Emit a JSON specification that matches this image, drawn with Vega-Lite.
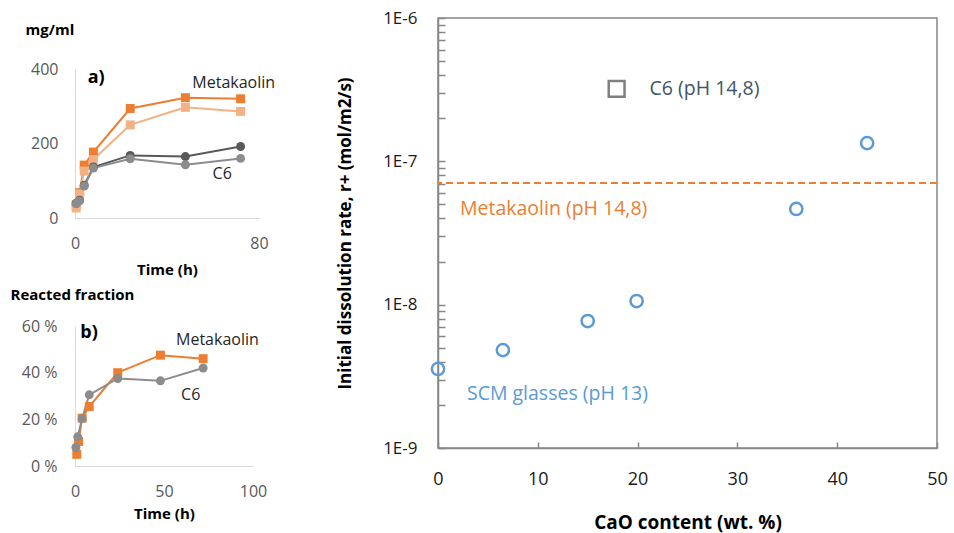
{
  "$schema": "https://vega.github.io/schema/vega-lite/v6.json",
  "padding": {"left": 10, "top": 8, "right": 5, "bottom": 3},
  "autosize": {"type": "pad"},
  "background": "white",
  "config": {
    "view": {"stroke": null},
    "font": "Open Sans",
    "axis": {"grid": false, "labelFlush": false, "labelFont": "Open Sans", "titleFont": "Open Sans"},
    "text": {"font": "Open Sans"}
  },
  "datasets": {
    "conc": [
      {"t": 0.5, "v": 35, "series": "Metakaolin 1", "material": "Metakaolin"},
      {"t": 2, "v": 68, "series": "Metakaolin 1", "material": "Metakaolin"},
      {"t": 4, "v": 142, "series": "Metakaolin 1", "material": "Metakaolin"},
      {"t": 8, "v": 177, "series": "Metakaolin 1", "material": "Metakaolin"},
      {"t": 24, "v": 294, "series": "Metakaolin 1", "material": "Metakaolin"},
      {"t": 48, "v": 323, "series": "Metakaolin 1", "material": "Metakaolin"},
      {"t": 72, "v": 320, "series": "Metakaolin 1", "material": "Metakaolin"},
      {"t": 0.5, "v": 27, "series": "Metakaolin 2", "material": "Metakaolin"},
      {"t": 2, "v": 65, "series": "Metakaolin 2", "material": "Metakaolin"},
      {"t": 4, "v": 126, "series": "Metakaolin 2", "material": "Metakaolin"},
      {"t": 8, "v": 157, "series": "Metakaolin 2", "material": "Metakaolin"},
      {"t": 24, "v": 250, "series": "Metakaolin 2", "material": "Metakaolin"},
      {"t": 48, "v": 297, "series": "Metakaolin 2", "material": "Metakaolin"},
      {"t": 72, "v": 286, "series": "Metakaolin 2", "material": "Metakaolin"},
      {"t": 0.5, "v": 40, "series": "C6 1", "material": "C6"},
      {"t": 2, "v": 48, "series": "C6 1", "material": "C6"},
      {"t": 4, "v": 88, "series": "C6 1", "material": "C6"},
      {"t": 8, "v": 137, "series": "C6 1", "material": "C6"},
      {"t": 24, "v": 168, "series": "C6 1", "material": "C6"},
      {"t": 48, "v": 165, "series": "C6 1", "material": "C6"},
      {"t": 72, "v": 192, "series": "C6 1", "material": "C6"},
      {"t": 0.5, "v": 38, "series": "C6 2", "material": "C6"},
      {"t": 2, "v": 46, "series": "C6 2", "material": "C6"},
      {"t": 4, "v": 86, "series": "C6 2", "material": "C6"},
      {"t": 8, "v": 134, "series": "C6 2", "material": "C6"},
      {"t": 24, "v": 159, "series": "C6 2", "material": "C6"},
      {"t": 48, "v": 143, "series": "C6 2", "material": "C6"},
      {"t": 72, "v": 160, "series": "C6 2", "material": "C6"}
    ],
    "frac": [
      {"t": 1, "v": 5, "series": "Metakaolin", "material": "Metakaolin"},
      {"t": 2, "v": 10.5, "series": "Metakaolin", "material": "Metakaolin"},
      {"t": 4, "v": 20.5, "series": "Metakaolin", "material": "Metakaolin"},
      {"t": 8, "v": 25.5, "series": "Metakaolin", "material": "Metakaolin"},
      {"t": 24, "v": 40, "series": "Metakaolin", "material": "Metakaolin"},
      {"t": 48, "v": 47.5, "series": "Metakaolin", "material": "Metakaolin"},
      {"t": 72, "v": 46, "series": "Metakaolin", "material": "Metakaolin"},
      {"t": 0.5, "v": 8, "series": "C6", "material": "C6"},
      {"t": 1.5, "v": 12.5, "series": "C6", "material": "C6"},
      {"t": 4, "v": 20.3, "series": "C6", "material": "C6"},
      {"t": 8, "v": 30.5, "series": "C6", "material": "C6"},
      {"t": 24, "v": 37.5, "series": "C6", "material": "C6"},
      {"t": 48, "v": 36.5, "series": "C6", "material": "C6"},
      {"t": 72, "v": 42, "series": "C6", "material": "C6"}
    ],
    "aLabels": [
      {"t": 69, "v": 362, "label": "Metakaolin"},
      {"t": 64, "v": 118, "label": "C6"}
    ],
    "aTag": [{"t": 5.5, "v": 376, "label": "a)"}],
    "bLabels": [
      {"t": 80, "v": 54, "label": "Metakaolin"},
      {"t": 65, "v": 30.4, "label": "C6"}
    ],
    "bTag": [{"t": 3, "v": 57, "label": "b)"}],
    "glasses": [
      {"cao": 0, "rate": 3.56e-9},
      {"cao": 6.5, "rate": 4.82e-9},
      {"cao": 15, "rate": 7.69e-9},
      {"cao": 19.9, "rate": 1.06e-8},
      {"cao": 35.9, "rate": 4.65e-8},
      {"cao": 43, "rate": 1.34e-7}
    ],
    "c6": [{"cao": 17.9, "rate": 3.2e-7}],
    "mk": [{"rate": 7.06e-8}],
    "c6Label": [{"cao": 21.2, "rate": 3.2e-7, "label": "C6 (pH 14,8)"}],
    "mkLabel": [{"cao": 2.2, "rate": 4.65e-8, "label": "Metakaolin (pH 14,8)"}],
    "scmLabel": [{"cao": 2.9, "rate": 2.38e-9, "label": "SCM glasses (pH 13)"}]
  },
  "spacing": 59,
  "hconcat": [
    {
      "spacing": 0,
      "vconcat": [
        {
          "width": 184,
          "height": 4,
          "data": {"values": [{"k": 1}]},
          "mark": {"type": "point", "size": 0, "opacity": 0}
        },
        {
          "spacing": 10,
          "vconcat": [
            {
              "width": 184,
              "height": 149,
              "layer": [
                {
                  "data": {"name": "conc"},
                  "mark": {"type": "line", "strokeWidth": 2},
                  "encoding": {
                    "x": {"field": "t", "type": "quantitative", "scale": {"domain": [0, 80], "nice": false},
                      "axis": {"values": [0, 80], "ticks": false, "domainColor": "#D9D9D9", "labelColor": "#595959", "labelFontSize": 16, "labelBaseline": "middle", "labelPadding": 25, "title": "Time (h)", "titleFontSize": 15, "titleFontWeight": "bold", "titleColor": "#000000", "titleBaseline": "middle", "titleY": 51}},
                    "y": {"field": "v", "type": "quantitative", "scale": {"domain": [0, 400], "nice": false},
                      "axis": {"values": [0, 100, 200, 300, 400], "ticks": false, "domainColor": "#D9D9D9", "labelColor": "#595959", "labelFontSize": 16, "labelPadding": 17, "title": "mg/ml", "titleAngle": 0, "titleAlign": "left", "titleBaseline": "middle", "titleX": -50, "titleY": -40, "titleFontSize": 15, "titleFontWeight": "bold", "titleColor": "#000000"}},
                    "color": {"field": "series", "type": "nominal", "legend": null,
                      "scale": {"domain": ["Metakaolin 1", "Metakaolin 2", "C6 1", "C6 2", "Metakaolin", "C6"], "range": ["#ED7D31", "#F4B183", "#595959", "#8C8C8C", "#ED7D31", "#8C8C8C"]}},
                    "detail": {"field": "series"}
                  }
                },
                {
                  "data": {"name": "conc"},
                  "mark": {"type": "point", "filled": true, "opacity": 1, "size": 80},
                  "encoding": {
                    "x": {"field": "t", "type": "quantitative"},
                    "y": {"field": "v", "type": "quantitative"},
                    "color": {"field": "series", "type": "nominal", "legend": null},
                    "shape": {"field": "material", "type": "nominal", "legend": null, "scale": {"domain": ["Metakaolin", "C6"], "range": ["square", "circle"]}}
                  }
                },
                {
                  "data": {"name": "aLabels"},
                  "mark": {"type": "text", "fontSize": 16, "color": "#262626", "align": "center", "baseline": "middle"},
                  "encoding": {
                    "x": {"field": "t", "type": "quantitative"},
                    "y": {"field": "v", "type": "quantitative"},
                    "text": {"field": "label"}
                  }
                },
                {
                  "data": {"name": "aTag"},
                  "mark": {"type": "text", "fontSize": 18, "fontWeight": "bold", "color": "#000000", "align": "left", "baseline": "middle"},
                  "encoding": {
                    "x": {"field": "t", "type": "quantitative"},
                    "y": {"field": "v", "type": "quantitative"},
                    "text": {"field": "label"}
                  }
                }
              ]
            },
            {
              "width": 178,
              "height": 140,
              "layer": [
                {
                  "data": {"name": "frac"},
                  "mark": {"type": "line", "strokeWidth": 2},
                  "encoding": {
                    "x": {"field": "t", "type": "quantitative", "scale": {"domain": [0, 100], "nice": false},
                      "axis": {"values": [0, 50, 100], "ticks": false, "domainColor": "#D9D9D9", "labelColor": "#595959", "labelFontSize": 16, "labelBaseline": "middle", "labelPadding": 25, "title": "Time (h)", "titleFontSize": 15, "titleFontWeight": "bold", "titleColor": "#000000", "titleBaseline": "middle", "titleY": 47}},
                    "y": {"field": "v", "type": "quantitative", "scale": {"domain": [0, 60], "nice": false},
                      "axis": {"values": [0, 20, 40, 60], "ticks": false, "domainColor": "#D9D9D9", "labelColor": "#595959", "labelFontSize": 16, "labelPadding": 18, "labelExpr": "datum.value + ' %'", "title": "Reacted fraction", "titleAngle": 0, "titleAlign": "left", "titleBaseline": "middle", "titleX": -65, "titleY": -32, "titleFontSize": 15, "titleFontWeight": "bold", "titleColor": "#000000"}},
                    "color": {"field": "series", "type": "nominal", "legend": null,
                      "scale": {"domain": ["Metakaolin 1", "Metakaolin 2", "C6 1", "C6 2", "Metakaolin", "C6"], "range": ["#ED7D31", "#F4B183", "#595959", "#8C8C8C", "#ED7D31", "#8C8C8C"]}},
                    "detail": {"field": "series"}
                  }
                },
                {
                  "data": {"name": "frac"},
                  "mark": {"type": "point", "filled": true, "opacity": 1, "size": 80},
                  "encoding": {
                    "x": {"field": "t", "type": "quantitative"},
                    "y": {"field": "v", "type": "quantitative"},
                    "color": {"field": "series", "type": "nominal", "legend": null},
                    "shape": {"field": "material", "type": "nominal", "legend": null, "scale": {"domain": ["Metakaolin", "C6"], "range": ["square", "circle"]}}
                  }
                },
                {
                  "data": {"name": "bLabels"},
                  "mark": {"type": "text", "fontSize": 16, "color": "#262626", "align": "center", "baseline": "middle"},
                  "encoding": {
                    "x": {"field": "t", "type": "quantitative"},
                    "y": {"field": "v", "type": "quantitative"},
                    "text": {"field": "label"}
                  }
                },
                {
                  "data": {"name": "bTag"},
                  "mark": {"type": "text", "fontSize": 18, "fontWeight": "bold", "color": "#000000", "align": "left", "baseline": "middle"},
                  "encoding": {
                    "x": {"field": "t", "type": "quantitative"},
                    "y": {"field": "v", "type": "quantitative"},
                    "text": {"field": "label"}
                  }
                }
              ]
            }
          ]
        }
      ]
    },
    {
      "width": 499,
      "height": 430,
      "view": {"stroke": "#878787", "strokeWidth": 1.5},
      "layer": [
        {
          "data": {"name": "mk"},
          "mark": {"type": "rule", "color": "#ED7D31", "strokeWidth": 2, "strokeDash": [7, 4]},
          "encoding": {
            "y": {"field": "rate", "type": "quantitative",
              "scale": {"type": "log", "domain": [1e-9, 1e-6], "nice": false},
              "axis": {
                "values": [1e-9, 2e-9, 3e-9, 4e-9, 5e-9, 6e-9, 7e-9, 8e-9, 9e-9, 1e-8, 2e-8, 3e-8, 4e-8, 5e-8, 6e-8, 7e-8, 8e-8, 9e-8, 1e-7, 2e-7, 3e-7, 4e-7, 5e-7, 6e-7, 7e-7, 8e-7, 9e-7, 1e-6],
                "labelExpr": "abs(log(datum.value)/LN10 - round(log(datum.value)/LN10)) < 0.01 ? '1E' + round(log(datum.value)/LN10) : ''",
                "tickSize": -7, "tickColor": "#878787", "tickWidth": 1.5,
                "domainColor": "#878787", "domainWidth": 1.5,
                "labelColor": "#1a1a1a", "labelFontSize": 17, "labelPadding": 28,
                "title": "Initial dissolution rate, r+ (mol/m2/s)", "titleFontSize": 17, "titleFontWeight": "bold", "titleColor": "#000000",
                "titleBaseline": "middle", "titleX": -93, "titleY": 215
              }
            }
          }
        },
        {
          "data": {"name": "glasses"},
          "mark": {"type": "point", "shape": "circle", "filled": false, "color": "#5B9BD5", "strokeWidth": 2.5, "size": 150, "opacity": 1},
          "encoding": {
            "x": {"field": "cao", "type": "quantitative", "scale": {"domain": [0, 50], "nice": false},
              "axis": {"values": [0, 10, 20, 30, 40, 50], "tickSize": -6, "tickColor": "#878787", "tickWidth": 1.5,
                "domainColor": "#878787", "domainWidth": 1.5,
                "labelColor": "#1a1a1a", "labelFontSize": 18, "labelBaseline": "middle", "labelPadding": 37,
                "title": "CaO content (wt. %)", "titleFontSize": 19, "titleFontWeight": "bold", "titleColor": "#000000",
                "titleBaseline": "middle", "titleY": 74}},
            "y": {"field": "rate", "type": "quantitative"}
          }
        },
        {
          "data": {"name": "c6"},
          "mark": {"type": "point", "shape": "square", "filled": false, "color": "#7F7F7F", "strokeWidth": 2.5, "size": 250, "opacity": 1},
          "encoding": {
            "x": {"field": "cao", "type": "quantitative"},
            "y": {"field": "rate", "type": "quantitative"}
          }
        },
        {
          "data": {"name": "c6Label"},
          "mark": {"type": "text", "fontSize": 19.5, "color": "#44546A", "align": "left", "baseline": "middle"},
          "encoding": {
            "x": {"field": "cao", "type": "quantitative"},
            "y": {"field": "rate", "type": "quantitative"},
            "text": {"field": "label"}
          }
        },
        {
          "data": {"name": "mkLabel"},
          "mark": {"type": "text", "fontSize": 19.5, "color": "#ED7D31", "align": "left", "baseline": "middle"},
          "encoding": {
            "x": {"field": "cao", "type": "quantitative"},
            "y": {"field": "rate", "type": "quantitative"},
            "text": {"field": "label"}
          }
        },
        {
          "data": {"name": "scmLabel"},
          "mark": {"type": "text", "fontSize": 19.5, "color": "#5B9BD5", "align": "left", "baseline": "middle"},
          "encoding": {
            "x": {"field": "cao", "type": "quantitative"},
            "y": {"field": "rate", "type": "quantitative"},
            "text": {"field": "label"}
          }
        }
      ]
    }
  ]
}
